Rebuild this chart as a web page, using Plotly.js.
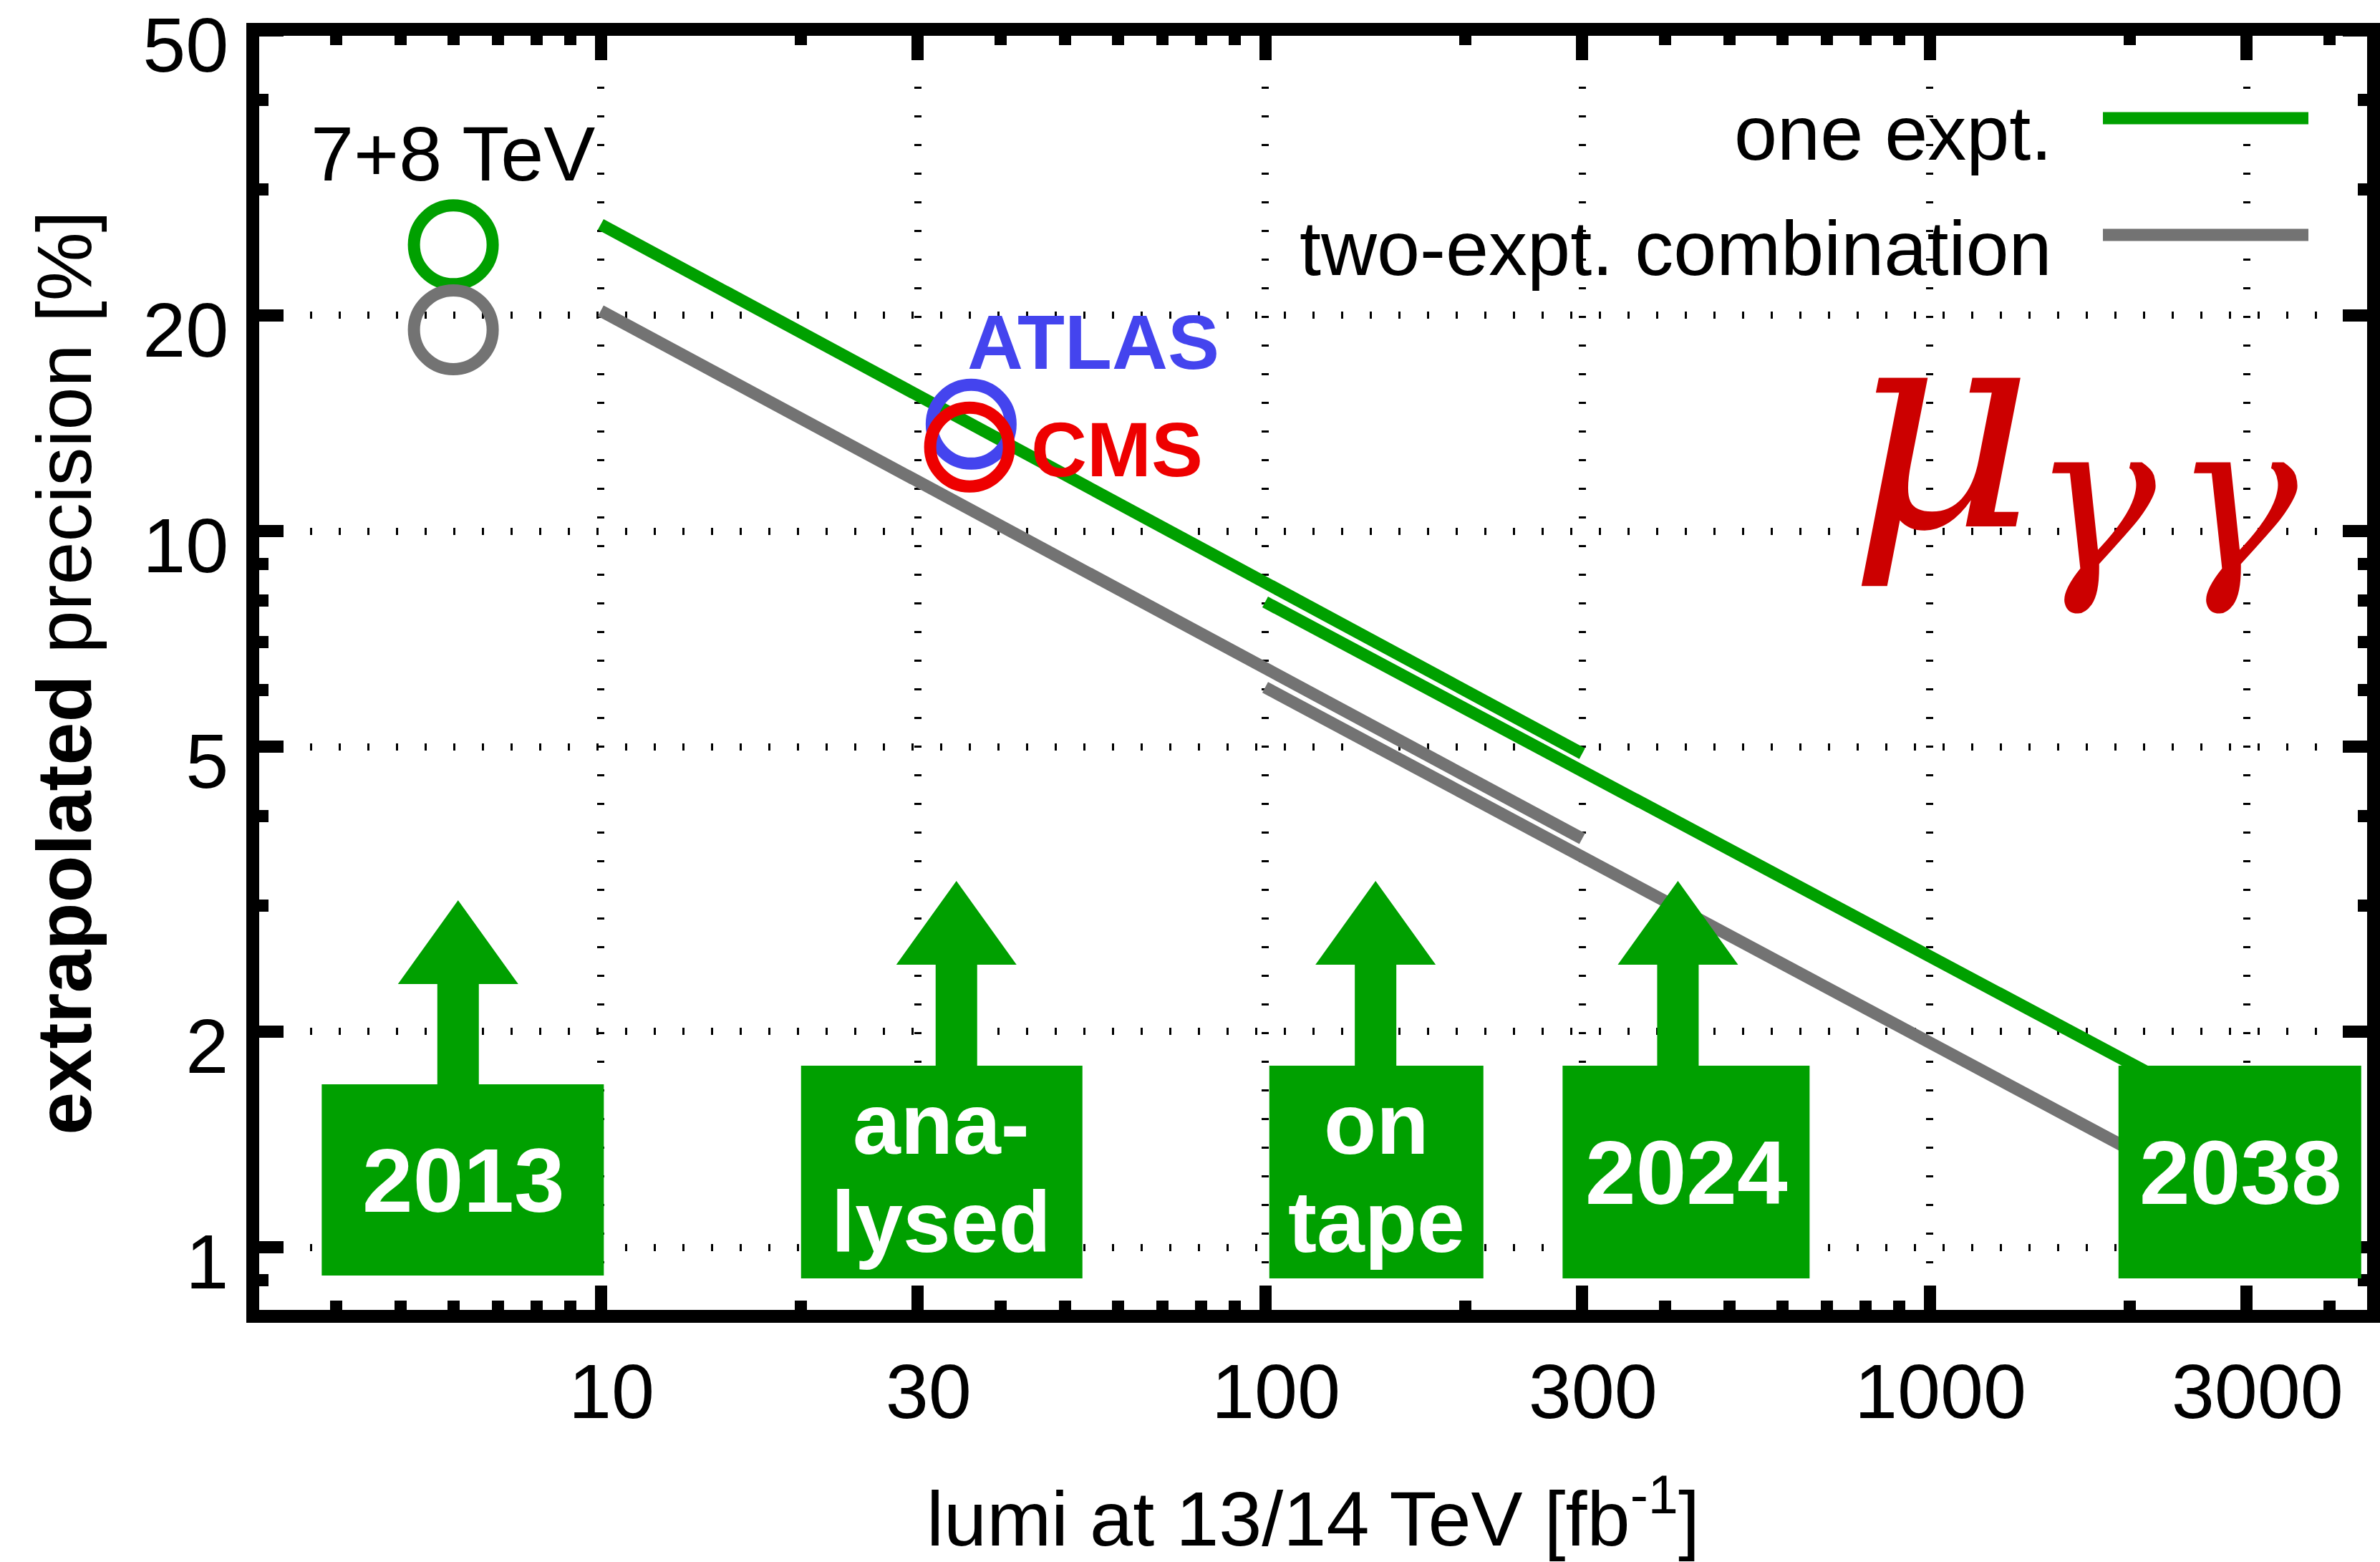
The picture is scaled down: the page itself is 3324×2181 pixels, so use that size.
<!DOCTYPE html>
<html>
<head>
<meta charset="utf-8">
<script src="https://cdn.plot.ly/plotly-3.0.1.min.js"></script>
<style>
html, body { margin: 0; padding: 0; background: #ffffff; }
#chart { width: 3324px; height: 2181px; }
</style>
</head>
<body>
<div id="chart"></div>
<script>
// ---------------- data ----------------
const lumiRun2 = [10, 30, 100, 300];
const oneExptRun2 = [26.8, 15.5, 8.48, 4.89];
const twoExptRun2 = [20.3, 11.7, 6.42, 3.72];

const lumiHL = [100, 300, 1000, 3000];
const oneExptHL = [7.96, 4.62, 2.55, 1.48];
const twoExptHL = [6.05, 3.50, 1.93, 1.12];

const run1Lumi = [6.0, 6.0];
const run1Precision = [25.1, 19.1];          // one expt., two-expt. combination

const experiments = ["ATLAS", "CMS"];
const expLumi = [36.1, 35.9];
const expPrecision = [14.1, 13.1];

const xTickVals = [10, 30, 100, 300, 1000, 3000];
const xTickText = ["10", "30", "100", "300", "1000", "3000"];
const yTickVals = [1, 2, 5, 10, 20, 50];
const yTickText = ["1", "2", "5", "10", "20", "50"];

const milestoneText = [["2013"], ["ana-", "lysed"], ["on", "tape"], ["2024"], ["2038"]];
const milestoneLumi = [6.2, 32.6, 147, 430, 2930];
const arrowLumi = [6.1, 34.3, 146.6, 418, null];

// ---------------- styling / geometry ----------------
const GREEN = "rgb(0,160,0)";
const GREY = "rgb(115,115,115)";
const BLUE = "rgb(68,68,238)";
const RED = "rgb(238,0,0)";
const DARKRED = "rgb(204,0,0)";
const FONT = "Liberation Sans, Arial, Helvetica, sans-serif";
const MATHFONT = "DejaVu Serif, Liberation Serif, serif";
const LW = 17;

const W = 3324, H = 2181;
const PL = 353, PR = 3315, PT = 41, PB = 1838;
const px = x => (x - PL) / (PR - PL);
const py = y => (PB - y) / (PB - PT);

const traces = [
  { x: lumiRun2, y: oneExptRun2, mode: "lines", line: { color: GREEN, width: LW }, showlegend: false, name: "one expt." },
  { x: lumiHL, y: oneExptHL, mode: "lines", line: { color: GREEN, width: LW }, showlegend: false, name: "one expt." },
  { x: lumiRun2, y: twoExptRun2, mode: "lines", line: { color: GREY, width: LW }, showlegend: false, name: "two-expt. combination" },
  { x: lumiHL, y: twoExptHL, mode: "lines", line: { color: GREY, width: LW }, showlegend: false, name: "two-expt. combination" },
  { x: run1Lumi, y: run1Precision, mode: "markers", showlegend: false,
    marker: { symbol: "circle-open", size: 110, color: [GREEN, GREY], line: { width: LW } } },
  { x: expLumi, y: expPrecision, mode: "markers", showlegend: false, text: experiments,
    marker: { symbol: "circle-open", size: 110, color: [BLUE, RED], line: { width: LW } } }
];

// milestone boxes and arrows (pixel-sized, anchored on data x and on y = 1)
const boxW = [394, 393, 299, 345, 339];
const boxTop = [227.5, 253.5, 253.5, 253.5, 253.5];   // px above y=1
const boxBot = [-39.5, -43.5, -43.5, -43.5, -43.5];
const tipY = [484.5, 511.5, 511.5, 511.5, null];
const HW = 84, HH = 117, SW = 29;

const shapes = [];
milestoneLumi.forEach((lx, i) => {
  const hw = boxW[i] / 2;
  shapes.push({ type: "path", xref: "x", yref: "y", xsizemode: "pixel", ysizemode: "pixel",
    xanchor: lx, yanchor: 1,
    path: `M${-hw},${boxBot[i]} L${hw},${boxBot[i]} L${hw},${boxTop[i]} L${-hw},${boxTop[i]} Z`,
    fillcolor: GREEN, line: { width: 0 }, layer: "above" });
  if (arrowLumi[i] !== null) {
    const t = tipY[i], b = boxTop[i] - 6;
    shapes.push({ type: "path", xref: "x", yref: "y", xsizemode: "pixel", ysizemode: "pixel",
      xanchor: arrowLumi[i], yanchor: 1,
      path: `M0,${t} L${HW},${t - HH} L${SW},${t - HH} L${SW},${b} L${-SW},${b} L${-SW},${t - HH} L${-HW},${t - HH} Z`,
      fillcolor: GREEN, line: { width: 0 }, layer: "above" });
  }
});
// legend samples
shapes.push({ type: "line", xref: "paper", yref: "paper", x0: px(2937), x1: px(3224), y0: py(165), y1: py(165), line: { color: GREEN, width: LW } });
shapes.push({ type: "line", xref: "paper", yref: "paper", x0: px(2937), x1: px(3224), y0: py(328), y1: py(328), line: { color: GREY, width: LW } });
// frame (centred on the plot-area border, as in the reference)
shapes.push({ type: "rect", xref: "paper", yref: "paper", x0: 0, x1: 1, y0: 0, y1: 1, line: { color: "black", width: 18 }, fillcolor: "rgba(0,0,0,0)", layer: "above" });

const ann = (text, x, y, opts = {}) => Object.assign({
  text, xref: "paper", yref: "paper", x: px(x), y: py(y), showarrow: false,
  xanchor: "center", yanchor: "middle", font: { family: FONT, size: 108, color: "black" }
}, opts);

const annotations = [
  ann("7+8 TeV", 632, 215),
  ann("ATLAS", 1527, 478, { font: { family: FONT, size: 108, color: BLUE, weight: "bold" } }),
  ann("CMS", 1560, 628, { font: { family: FONT, size: 108, color: RED, weight: "bold" } }),
  ann("one expt.", 2868, 185, { xanchor: "right" }),
  ann("two-expt. combination", 2868, 346, { xanchor: "right" }),
  ann("μ", 2712, 596, { font: { family: MATHFONT, size: 400, color: DARKRED, style: "italic" } }),
  ann("γ", 2926, 696, { font: { family: MATHFONT, size: 290, color: DARKRED, style: "italic" } }),
  ann("γ", 3124, 696, { font: { family: MATHFONT, size: 290, color: DARKRED, style: "italic" } })
];
const boxTextX = [647, 1314, 1923, 2355, 3129];
const boxTextY = [[1648], [1569, 1706], [1569, 1706], [1637], [1637]];
const boxTextSize = [[127], [120, 120], [120, 120], [127], [127]];
milestoneText.forEach((lines, i) => {
  lines.forEach((t, j) => {
    annotations.push(ann(t, boxTextX[i], boxTextY[i][j], { font: { family: FONT, size: boxTextSize[i][j], color: "white", weight: "bold" } }));
  });
});

const axisCommon = {
  type: "log",
  showline: true, linecolor: "black", linewidth: 1, mirror: "allticks",
  ticks: "inside", ticklen: 43, tickwidth: 17, tickcolor: "black",
  showgrid: true, gridcolor: "black", gridwidth: 10, griddash: "3px,37px",
  zeroline: false, ticklabeloverflow: "allow",
  tickfont: { family: FONT, size: 108, color: "black" },
  minor: { dtick: "D1", ticks: "inside", ticklen: 22, tickwidth: 17, tickcolor: "black", showgrid: false }
};

const layout = {
  width: W, height: H,
  margin: { l: PL, r: W - PR, t: PT, b: H - PB },
  paper_bgcolor: "white", plot_bgcolor: "white",
  showlegend: false,
  xaxis: Object.assign({}, axisCommon, {
    range: [0.4763, 3.6681], tickmode: "array", tickvals: xTickVals, ticktext: xTickText,
    ticklabelstandoff: 11, ticklabelshift: 15, automargin: "left",
    title: { text: "lumi at 13/14 TeV [fb<sup>-1</sup>]", font: { family: FONT, size: 108, color: "black" }, standoff: 86 }
  }),
  yaxis: Object.assign({}, axisCommon, {
    range: [-0.0965, 1.7005], tickmode: "array", tickvals: yTickVals, ticktext: yTickText,
    ticklabelstandoff: 11, ticklabelshift: 20,
    title: { text: "<b>extrapolated</b> precision [%]", font: { family: FONT, size: 108, color: "black" } }
  }),
  shapes, annotations
};

Plotly.newPlot("chart", traces, layout, { staticPlot: true, displayModeBar: false });
</script>
</body>
</html>
